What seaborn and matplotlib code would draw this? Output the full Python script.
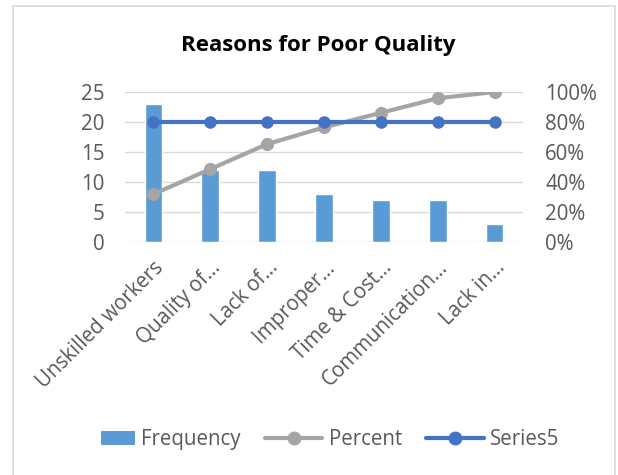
"""
Pareto chart - Reasons for Poor Quality
Bars = frequency, grey line = cumulative percent, blue line = 80% cut-off.
"""

import pandas as pd
import matplotlib
matplotlib.use('Agg')
import matplotlib.pyplot as plt
from matplotlib.patches import Rectangle, Patch
from matplotlib.lines import Line2D
from matplotlib.legend_handler import HandlerPatch
from matplotlib.ticker import PercentFormatter
import seaborn as sns

# ── Data ──────────────────────────────────────────────────────
reasons   = ['Unskilled workers', 'Quality of…', 'Lack of…', 'Improper…',
             'Time & Cost…', 'Communication…', 'Lack in…']
frequency = [23, 12, 12, 8, 7, 7, 3]
percent   = [0.319, 0.486, 0.653, 0.764, 0.861, 0.958, 1.0]
series5   = [0.8, 0.8, 0.8, 0.8, 0.8, 0.8, 0.8]

# ── Colours ───────────────────────────────────────────────────
BAR   = '#5B9BD5'
GREY  = '#A5A5A5'
BLUE  = '#4472C4'
GRID  = '#D9D9D9'
LABEL = '#595959'
FS = 14.8

sns.set_theme(style='white')
plt.rcParams['font.family'] = ['Open Sans', 'DejaVu Sans']

df = pd.DataFrame({'reason': reasons, 'pos': range(len(reasons)),
                   'frequency': frequency, 'percent': percent,
                   'series5': series5})

fig = plt.figure(figsize=(6.18, 4.75), dpi=100)
ax = fig.add_axes([125 / 618, 1 - 242 / 475, 398 / 618, 150 / 475])

sns.barplot(data=df, x='reason', y='frequency', color=BAR, width=0.31,
            saturation=1, ax=ax)
ax.set_ylim(0, 25)
ax.set_xlim(-0.5, len(reasons) - 0.5)
ax.set_yticks([0, 5, 10, 15, 20, 25])
ax.yaxis.grid(True, color=GRID, linewidth=1)
ax.set_axisbelow(True)
ax.set_xlabel('')
ax.set_ylabel('')
for s in ax.spines.values():
    s.set_visible(False)
ax.tick_params(axis='y', length=0, pad=15, labelsize=FS, labelcolor=LABEL)
ax.tick_params(axis='x', length=0, pad=11, labelsize=FS, labelcolor=LABEL)
ax.set_xticks(range(len(reasons)))
ax.set_xticklabels(reasons, rotation=45, ha='right', rotation_mode='anchor')

ax2 = ax.twinx()
sns.lineplot(data=df, x='pos', y='percent', color=GREY, linewidth=3,
             marker='o', markersize=9.5, markeredgewidth=0, ax=ax2)
sns.lineplot(data=df, x='pos', y='series5', color=BLUE, linewidth=3,
             marker='o', markersize=9, markeredgewidth=0, ax=ax2)
ax2.set_ylim(0, 1)
ax2.set_yticks([0, 0.2, 0.4, 0.6, 0.8, 1.0])
ax2.yaxis.set_major_formatter(PercentFormatter(1.0, decimals=0))
ax2.set_ylabel('')
ax2.set_xlabel('')
for s in ax2.spines.values():
    s.set_visible(False)
ax2.tick_params(axis='y', length=0, pad=16, labelsize=FS, labelcolor=LABEL)
ax2.set_xlim(-0.5, len(reasons) - 0.5)

fig.text(0.515, 0.905, 'Reasons for Poor Quality', ha='center', va='center',
         fontsize=16, fontweight='bold', color='black')

# chart border
fig.patches.append(Rectangle((13 / 618, -0.05), 602 / 618, 1.037,
                             transform=fig.transFigure, fill=False,
                             edgecolor=GRID, linewidth=1.2))


def narrow_patch(legend, orig_handle, xdescent, ydescent, width, height, fontsize):
    w = width * 0.59
    return Rectangle((-xdescent + width - w, -ydescent), w, height)


handles = [Patch(facecolor=BAR, edgecolor='none'),
           Line2D([], [], color=GREY, linewidth=3, marker='o', markersize=9),
           Line2D([], [], color=BLUE, linewidth=3, marker='o', markersize=9)]
fig.legend(handles, ['Frequency', 'Percent', 'Series5'], loc='center',
           bbox_to_anchor=(0.515, 0.074), ncol=3, frameon=False,
           fontsize=FS, labelcolor=LABEL, handlelength=2.8,
           handletextpad=0.3, columnspacing=1.2,
           handler_map={Patch: HandlerPatch(patch_func=narrow_patch)})

fig.savefig('out.png', dpi=100, facecolor='white')
